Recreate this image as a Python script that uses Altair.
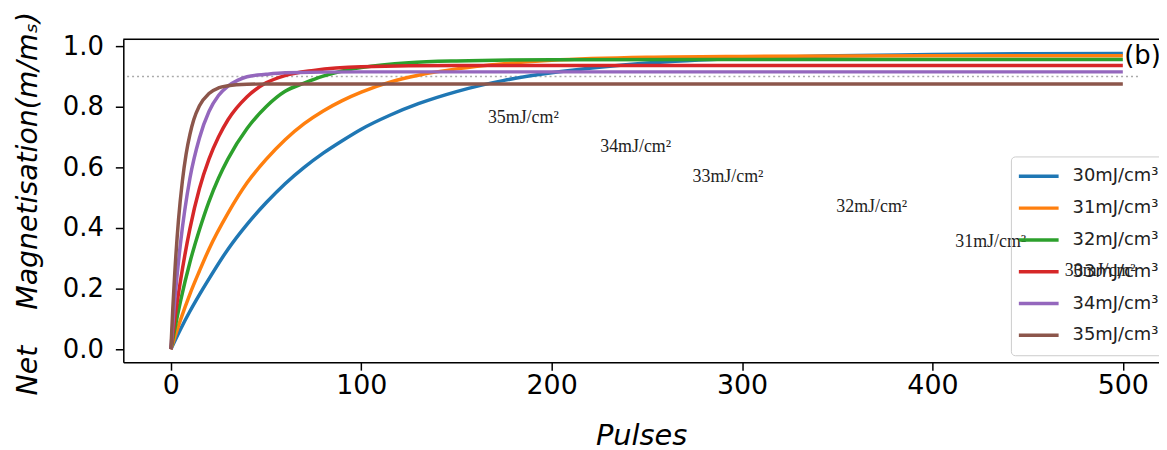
import altair as alt
import pandas as pd

series_labels = ["30mJ/cm³", "31mJ/cm³", "32mJ/cm³", "33mJ/cm³", "34mJ/cm³", "35mJ/cm³"]
series_colors = ["#1f77b4", "#ff7f0e", "#2ca02c", "#d62728", "#9467bd", "#8c564b"]

pulses_30 = [0, 5, 10, 15, 20, 30, 40, 50, 60, 70, 80, 90, 100, 115, 130, 150, 175, 200, 225,
             250, 300, 350, 400, 450, 500]
mag_30 = [0, 0.065, 0.125, 0.18, 0.232, 0.33, 0.412, 0.483, 0.546, 0.6, 0.647, 0.688, 0.726,
          0.772, 0.81, 0.85, 0.887, 0.912, 0.93, 0.944, 0.96, 0.968, 0.972, 0.975, 0.976]

pulses_31 = [0, 5, 10, 15, 20, 30, 40, 50, 60, 70, 80, 90, 100, 115, 130, 150, 175, 200, 250,
             300, 400, 500]
mag_31 = [0, 0.096, 0.182, 0.258, 0.33, 0.449, 0.549, 0.626, 0.691, 0.744, 0.786, 0.82, 0.848,
          0.881, 0.904, 0.925, 0.942, 0.953, 0.963, 0.966, 0.968, 0.968]

pulses_32 = [0, 5, 10, 15, 20, 25, 30, 40, 50, 60, 70, 80, 90, 100, 125, 150, 200, 300, 500]
mag_32 = [0, 0.157, 0.287, 0.394, 0.487, 0.564, 0.628, 0.728, 0.8, 0.851, 0.878, 0.901, 0.918,
          0.929, 0.945, 0.951, 0.955, 0.956, 0.956]

pulses_33 = [0, 2, 5, 10, 15, 20, 25, 30, 40, 50, 60, 75, 100, 150, 500]
mag_33 = [0, 0.098, 0.224, 0.398, 0.53, 0.627, 0.7, 0.757, 0.833, 0.879, 0.903, 0.92, 0.932,
          0.936, 0.936]

pulses_34 = [0, 2, 5, 10, 15, 20, 25, 30, 35, 40, 50, 60, 100, 500]
mag_34 = [0, 0.159, 0.347, 0.564, 0.697, 0.784, 0.837, 0.868, 0.887, 0.899, 0.907, 0.912, 0.915,
          0.915]

pulses_35 = [0, 1, 2, 4, 6, 8, 10, 12, 15, 20, 25, 30, 40, 50, 500]
mag_35 = [0, 0.135, 0.248, 0.427, 0.553, 0.644, 0.709, 0.757, 0.803, 0.844, 0.862, 0.869, 0.874,
          0.875, 0.875]

ann_labels = ["35mJ/cm²", "34mJ/cm²", "33mJ/cm²", "32mJ/cm²", "31mJ/cm²", "30mJ/cm²"]
ann_x = [166.5, 225.5, 274, 349.5, 412, 469.5]
ann_y = [0.763, 0.667, 0.567, 0.469, 0.354, 0.259]

ref_level = 0.9
ref_start, ref_end = -23, 509

x_ticks = [0, 100, 200, 300, 400, 500]
y_ticks = [0.0, 0.2, 0.4, 0.6, 0.8, 1.0]
x_dom = [-25, 519]
y_dom = [-0.043, 1.023]

all_p = [pulses_30, pulses_31, pulses_32, pulses_33, pulses_34, pulses_35]
all_m = [mag_30, mag_31, mag_32, mag_33, mag_34, mag_35]
rows = []
for lab, ps, ms in zip(series_labels, all_p, all_m):
    for p, m in zip(ps, ms):
        rows.append({"series": lab, "pulses": p, "mag": m})
df = pd.DataFrame(rows)

ann_df = pd.DataFrame({"label": ann_labels, "x": ann_x, "y": ann_y})
ref_df = pd.DataFrame({"x": [ref_start], "x2": [ref_end], "y": [ref_level]})
spine_df = pd.DataFrame({"x": [x_dom[0]], "x2": [x_dom[1]], "y": [y_dom[1]]})
blab_df = pd.DataFrame({"x": [500.7], "y": [0.967], "t": ["(b)"]})

FONT = "DejaVu Sans"
NB = "\u00a0"
xscale = alt.Scale(domain=x_dom, nice=False, zero=False)
yscale = alt.Scale(domain=y_dom, nice=False, zero=False)

lines = alt.Chart(df).mark_line(strokeWidth=3.5, interpolate="monotone").encode(
    x=alt.X("pulses:Q", scale=xscale,
            axis=alt.Axis(values=x_ticks, title="Pulses", format="d", grid=False,
                          labelFontSize=27, titleFontSize=29, titleFontStyle="italic",
                          titleFontWeight="normal", titleY=74, titleBaseline="middle",
                          tickSize=8, tickWidth=1.5, domainWidth=1.5, labelPadding=2,
                          domainColor="black", tickColor="black", labelColor="black",
                          titleColor="black", labelFont=FONT, titleFont=FONT)),
    y=alt.Y("mag:Q", scale=yscale,
            axis=alt.Axis(values=y_ticks, title="Net" + NB * 4 + "Magnetisation(m/mₛ)",
                          format=".1f", grid=False,
                          labelFontSize=26, titleFontSize=28.5, titleFontStyle="italic",
                          titleFontWeight="normal", titleX=-96, titleY=165,
                          titleBaseline="middle",
                          tickSize=8, tickWidth=1.5, domainWidth=1.5, labelPadding=12,
                          domainColor="black", tickColor="black", labelColor="black",
                          titleColor="black", labelFont=FONT, titleFont=FONT)),
    color=alt.Color("series:N", sort=series_labels,
                    scale=alt.Scale(domain=series_labels, range=series_colors),
                    legend=alt.Legend(orient="none", legendX=893, legendY=118, title=None,
                                      symbolType="stroke", symbolSize=1600, symbolStrokeWidth=3.5,
                                      labelFontSize=18, labelFont=FONT, labelColor="#222222",
                                      labelOffset=12, padding=6, rowPadding=4, clipHeight=28,
                                      strokeColor="#cccccc", fillColor="rgba(255,255,255,0)",
                                      cornerRadius=4)),
)

ref = alt.Chart(ref_df).mark_rule(color="#aaaaaa", strokeWidth=1.5, strokeDash=[2, 3]).encode(
    x=alt.X("x:Q", scale=xscale), x2="x2:Q", y=alt.Y("y:Q", scale=yscale))

spine = alt.Chart(spine_df).mark_rule(color="black", strokeWidth=1.5).encode(
    x=alt.X("x:Q", scale=xscale), x2="x2:Q", y=alt.Y("y:Q", scale=yscale))

ann = alt.Chart(ann_df).mark_text(font="Liberation Serif", fontSize=18, align="left",
                                  baseline="middle", color="#222222").encode(
    x=alt.X("x:Q", scale=xscale), y=alt.Y("y:Q", scale=yscale), text="label:N")

blab = alt.Chart(blab_df).mark_text(font=FONT, fontSize=26, align="left", baseline="middle",
                                    color="black").encode(
    x=alt.X("x:Q", scale=xscale), y=alt.Y("y:Q", scale=yscale), text="t:N")

chart = alt.layer(ref, lines, spine, ann, blab).properties(
    width=1042, height=325,
    autosize=alt.AutoSizeParams(type="none"),
    padding={"left": 116, "top": 30, "right": 0, "bottom": 88},
).configure_view(stroke=None).configure(background="white")

chart.save("out.html", embed_options={"renderer": "svg", "actions": False})
